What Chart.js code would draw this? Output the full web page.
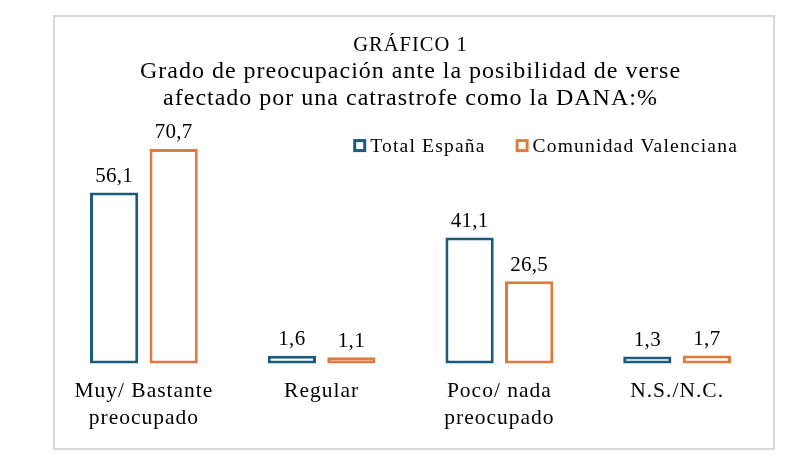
<!DOCTYPE html>
<html>
<head>
<meta charset="utf-8">
<script src="https://cdn.jsdelivr.net/npm/chart.js@4.4.1/dist/chart.umd.min.js"></script>
<style>
  body { margin: 0; background: #fff; }
  .caja {
    position: absolute; left: 53px; top: 15px;
    width: 718px; height: 431px;
    border: 2px solid #d9d9d9; background: #fff;
  }
</style>
</head>
<body>
<div class="caja"><canvas id="grafico"></canvas></div>
<script>
// datos
const categorias = [['Muy/ Bastante', 'preocupado'], 'Regular', ['Poco/ nada', 'preocupado'], 'N.S./N.C.'];
const totalEspana = [56.1, 1.6, 41.1, 1.3];
const comunidadValenciana = [70.7, 1.1, 26.5, 1.7];

const azul = '#1c5b7c';
const naranja = '#e07a3e';
const fuente = "'Liberation Serif', 'Times New Roman', serif";
const espacio = '1px';
const borde = 3;

// el texto del original sale algo más ancho
const espaciado = {
    id: 'espaciado',
    beforeLayout(chart) { chart.ctx.letterSpacing = espacio; },
    beforeDraw(chart) { chart.ctx.letterSpacing = espacio; },
};

// borde centrado sobre el contorno de la barra (como en Excel)
const bordeCentrado = {
    id: 'bordeCentrado',
    afterDatasetsUpdate(chart) {
        chart.data.datasets.forEach((ds, i) => {
            chart.getDatasetMeta(i).data.forEach(bar => {
                bar.y -= borde / 2;
                bar.base += borde / 2;
                bar.width += borde;
            });
        });
    }
};

// etiquetas encima de cada barra
const etiquetasValor = {
    id: 'etiquetasValor',
    afterDatasetsDraw(chart) {
        const ctx = chart.ctx;
        ctx.save();
        ctx.letterSpacing = '0.3px';
        ctx.font = '21px ' + fuente;
        ctx.fillStyle = '#000';
        ctx.textAlign = 'center';
        ctx.textBaseline = 'bottom';
        chart.data.datasets.forEach((ds, i) => {
            chart.getDatasetMeta(i).data.forEach((bar, j) => {
                const txt = ds.data[j].toFixed(1).replace('.', ',');
                ctx.fillText(txt, bar.x, bar.y - 5.5);
            });
        });
        ctx.restore();
    }
};

// leyenda dentro del área del gráfico, arriba a la derecha
const leyenda = {
    id: 'leyenda',
    afterDraw(chart) {
        const ctx = chart.ctx;
        const area = chart.chartArea;
        ctx.save();
        ctx.font = '19.5px ' + fuente;
        ctx.letterSpacing = '1.2px';
        ctx.textBaseline = 'middle';
        ctx.textAlign = 'left';
        const caja = 13, hueco = 4, separa = 30;
        const items = chart.data.datasets.map(ds => ({
            texto: ds.label, color: ds.borderColor,
            ancho: caja + hueco + ctx.measureText(ds.label).width,
        }));
        const total = items.reduce((s, it) => s + it.ancho, 0) + separa * (items.length - 1);
        let x = area.right - 28 - total;
        const y = area.top + 23;
        items.forEach(it => {
            ctx.fillStyle = it.color;
            ctx.fillRect(x, y - caja / 2, caja, caja);
            ctx.fillStyle = '#fff';
            ctx.fillRect(x + 3, y - caja / 2 + 3, caja - 6, caja - 6);
            ctx.fillStyle = '#000';
            ctx.fillText(it.texto, x + caja + hueco, y + 1);
            x += it.ancho + separa;
        });
        ctx.restore();
    }
};

const ctx = document.getElementById('grafico').getContext('2d');
const chart = new Chart(ctx, {
    type: 'bar',
    data: {
        labels: categorias,
        datasets: [{
            label: 'Total España',
            data: totalEspana,
            backgroundColor: '#fff',
            borderColor: azul,
            borderWidth: borde,
            borderSkipped: false,
            clip: false,
        }, {
            label: 'Comunidad Valenciana',
            data: comunidadValenciana,
            backgroundColor: '#fff',
            borderColor: naranja,
            borderWidth: borde,
            borderSkipped: false,
            clip: false,
        }],
    },
    options: {
        responsive: true,
        maintainAspectRatio: false,
        animation: false,
        categoryPercentage: 0.67,
        barPercentage: 0.76,
        layout: { padding: { left: 0, right: 7, top: 0, bottom: 8 } },
        plugins: {
            title: {
                display: true,
                text: 'GRÁFICO 1',
                color: '#000',
                font: { family: fuente, size: 20.5, weight: 'normal' },
                padding: { top: 16, bottom: 0 },
            },
            subtitle: {
                display: true,
                text: ['Grado de preocupación ante la posibilidad de verse', 'afectado por una catrastrofe como la DANA:%'],
                color: '#000',
                font: { family: fuente, size: 24, weight: 'normal', lineHeight: 1.125 },
                padding: { top: 1, bottom: 10 },
            },
            legend: { display: false },
            tooltip: { enabled: false },
        },
        scales: {
            x: {
                grid: { display: false },
                border: { display: false },
                ticks: {
                    color: '#000',
                    font: { family: fuente, size: 21.5, lineHeight: 1.256 },
                    padding: 8,
                    maxRotation: 0,
                },
            },
            y: {
                display: false,
                min: 0,
                max: 80,
            },
        },
    },
    plugins: [espaciado, bordeCentrado, etiquetasValor, leyenda],
});
</script>
</body>
</html>
